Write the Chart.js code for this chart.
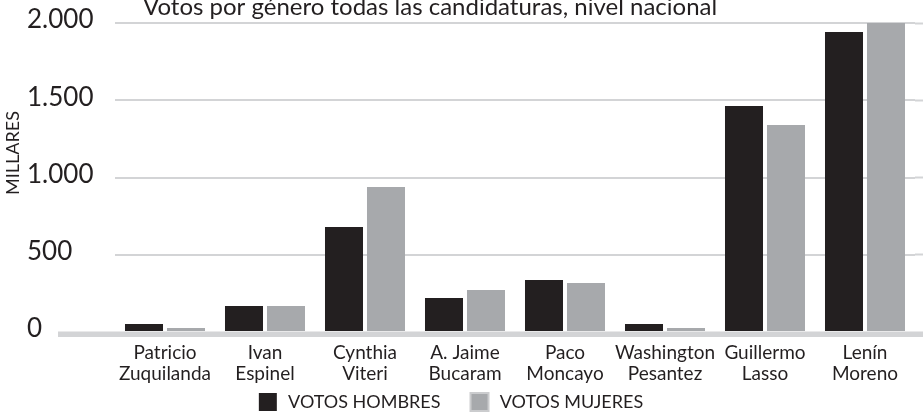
<!DOCTYPE html>
<html>
<head>
<meta charset="utf-8">
<script src="https://cdn.jsdelivr.net/npm/chart.js@4"></script>
<style>
  html, body { margin: 0; padding: 0; background: #fff; overflow: hidden; }
  #wrap { position: absolute; left: 0; top: 0; width: 923px; height: 448px; }
</style>
</head>
<body>
<div id="wrap"><canvas id="chart"></canvas></div>
<script>
// ---- data ----
const candidatos = [
  ['Patricio', 'Zuquilanda'],
  ['Ivan', 'Espinel'],
  ['Cynthia', 'Viteri'],
  ['A. Jaime', 'Bucaram'],
  ['Paco', 'Moncayo'],
  ['Washington', 'Pesantez'],
  ['Guillermo', 'Lasso'],
  ['Lenín', 'Moreno']
];
const votosHombres = [52, 168, 680, 220, 337, 52, 1463, 1942];
const votosMujeres = [26, 168, 939, 272, 317, 26, 1340, 2000];
const yTickLabels = ['0', '500', '1.000', '1.500', '2.000'];
const titulo = 'Votos por género todas las candidaturas, nivel nacional';
const ejeY = 'MILLARES';

// ---- look ----
const FONT = 'Lato, "Noto Sans", sans-serif';
const INK = '#231f20';
const GRID = '#d3d4d6';

// legend sits tighter under the two-line labels than chart.js stacks it
const legendUp = {
  id: 'legendUp',
  afterLayout(chart) {
    const lg = chart.legend;
    lg.top -= 27; lg.bottom -= 27;
    lg.left -= 24; lg.right -= 24;
  }
};

// title, y label and base line
const extras = {
  id: 'extras',
  afterDraw(chart) {
    const ctx = chart.ctx;
    const y0 = chart.scales.y.getPixelForValue(0);
    ctx.save();
    ctx.fillStyle = GRID;
    ctx.fillRect(58, y0 - 0.5, chart.width - 58, 5.5);

    ctx.fillStyle = INK;
    ctx.font = '24px ' + FONT;
    ctx.textAlign = 'left';
    ctx.textBaseline = 'alphabetic';
    ctx.fillText(titulo, 143, 15);

    ctx.translate(13, 153);
    ctx.rotate(-Math.PI / 2);
    ctx.font = '18px ' + FONT;
    ctx.textAlign = 'center';
    ctx.textBaseline = 'middle';
    ctx.fillText(ejeY, 0, 0);
    ctx.restore();
  }
};

new Chart(document.getElementById('chart'), {
  type: 'bar',
  data: {
    labels: candidatos,
    datasets: [
      { label: 'VOTOS HOMBRES', data: votosHombres, backgroundColor: INK,
        borderWidth: 0, barPercentage: 0.905, categoryPercentage: 0.84 },
      { label: 'VOTOS MUJERES', data: votosMujeres, backgroundColor: '#a7a9ac',
        borderWidth: 0, barPercentage: 0.905, categoryPercentage: 0.84 }
    ]
  },
  options: {
    responsive: true,
    maintainAspectRatio: false,
    devicePixelRatio: 1,
    animation: false,
    layout: { padding: { top: 23, left: 27, right: 0, bottom: 0 } },
    plugins: {
      tooltip: { enabled: false },
      legend: {
        position: 'bottom',
        labels: {
          color: INK,
          font: { family: FONT, size: 18 },
          boxWidth: 18, boxHeight: 18, padding: 30,
          generateLabels(chart) {
            const items = Chart.defaults.plugins.legend.labels.generateLabels(chart);
            items.forEach((it, i) => {
              it.text = '\u2009' + it.text;
              it.lineWidth = i === 1 ? 2 : 0;
              it.strokeStyle = i === 1 ? '#cbccce' : INK;
            });
            return items;
          }
        }
      }
    },
    scales: {
      x: {
        grid: { display: false, drawTicks: false },
        border: { display: false },
        ticks: {
          color: INK, font: { family: FONT, size: 19, lineHeight: 21 / 19 },
          padding: 10, maxRotation: 0, autoSkip: false
        },
        afterFit(s) { s.height = 58; }
      },
      y: {
        min: 0, max: 2000, z: 1,
        border: { display: false },
        grid: {
          drawTicks: false, lineWidth: 2,
          color: c => c.tick && c.tick.value === 0 ? 'rgba(0,0,0,0)' : GRID
        },
        ticks: {
          stepSize: 500, padding: 0, color: INK, crossAlign: 'far', labelOffset: -3,
          font: { family: FONT, size: 26 },
          callback: (v, i) => yTickLabels[i]
        },
        afterFit(s) { s.width = 88; }
      },
      y2: {
        display: true, position: 'right', min: 0, max: 2000,
        border: { display: false },
        grid: {
          drawOnChartArea: false, drawTicks: true, tickLength: 8, tickWidth: 2,
          tickColor: c => c.tick && c.tick.value === 0 ? 'rgba(0,0,0,0)' : GRID
        },
        ticks: { display: false, stepSize: 500 }
      }
    }
  },
  plugins: [legendUp, extras]
});
</script>
</body>
</html>
